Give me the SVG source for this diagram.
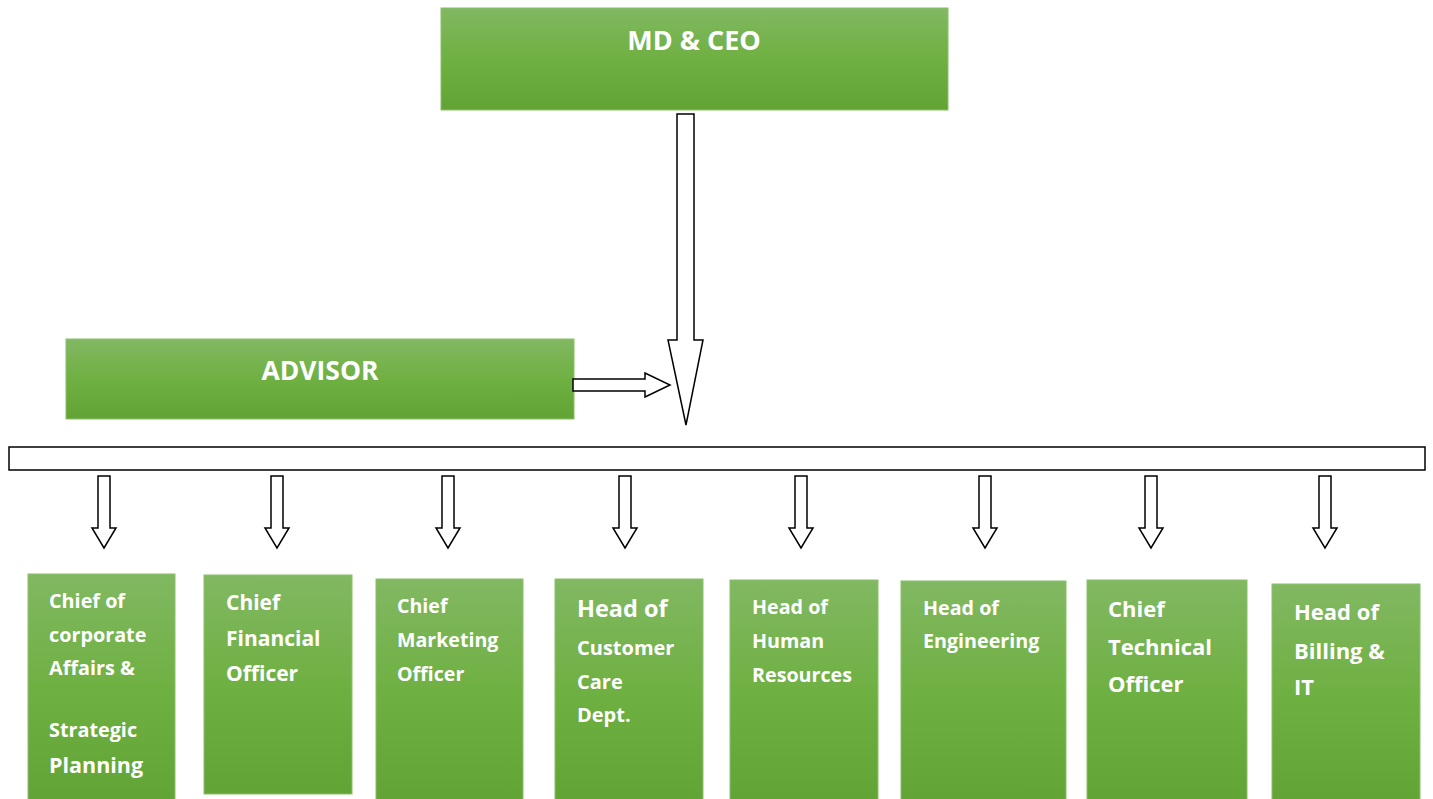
<svg xmlns="http://www.w3.org/2000/svg" width="1433" height="799" viewBox="0 0 1433 799">
<defs>
<linearGradient id="g" x1="0" y1="0" x2="0" y2="1">
<stop offset="0" stop-color="#81b862"/>
<stop offset="0.5" stop-color="#6fb042"/>
<stop offset="1" stop-color="#62a335"/>
</linearGradient>
</defs>
<style>
.box{fill:url(#g);stroke:#8cc06a;stroke-width:1}
.t{font-family:"Open Sans","Liberation Sans",sans-serif;font-weight:700;fill:#ffffff}
.arr{fill:#ffffff;stroke:#000000;stroke-width:1.5;stroke-linejoin:miter}
</style>
<rect width="1433" height="799" fill="#ffffff"/>
<g id="md-ceo">
<rect class="box" x="441" y="8" width="507" height="102"/>
<text class="t" x="694" y="50" font-size="27" text-anchor="middle">MD &amp; CEO</text>
</g>
<g id="advisor">
<rect class="box" x="66" y="339" width="508" height="80"/>
<text class="t" x="320" y="380" font-size="26.5" text-anchor="middle">ADVISOR</text>
</g>
<g id="connectors">
<polygon class="arr" points="677,114 694,114 694,340 703,340 686,425 668,340 677,340"/>
<polygon class="arr" points="573,379 645,379 645,373 670,385 645,397 645,391 573,391"/>
<rect class="arr" x="9" y="447" width="1416" height="23"/>
<g id="down-arrows">
<polygon class="arr" points="98,476 110,476 110,528 116,528 104,548 92,528 98,528"/>
<polygon class="arr" points="271,476 283,476 283,528 289,528 277,548 265,528 271,528"/>
<polygon class="arr" points="442,476 454,476 454,528 460,528 448,548 436,528 442,528"/>
<polygon class="arr" points="619,476 631,476 631,528 637,528 625,548 613,528 619,528"/>
<polygon class="arr" points="795,476 807,476 807,528 813,528 801,548 789,528 795,528"/>
<polygon class="arr" points="979,476 991,476 991,528 997,528 985,548 973,528 979,528"/>
<polygon class="arr" points="1145,476 1157,476 1157,528 1163,528 1151,548 1139,528 1145,528"/>
<polygon class="arr" points="1319,476 1331,476 1331,528 1337,528 1325,548 1313,528 1319,528"/>
</g>
</g>
<g id="n1">
<rect class="box" x="28" y="574" width="147" height="230"/>
<text class="t" font-size="19.8"><tspan x="49" y="608">Chief of</tspan><tspan x="49" y="642">corporate</tspan><tspan x="49" y="675">Affairs &amp;</tspan><tspan x="49" y="737">Strategic</tspan></text>
<text class="t" font-size="21.5"><tspan x="49" y="773">Planning</tspan></text>
</g>
<g id="n2">
<rect class="box" x="204" y="575" width="148" height="219"/>
<text class="t" font-size="21"><tspan x="226" y="610">Chief</tspan><tspan x="226" y="646">Financial</tspan><tspan x="226" y="681">Officer</tspan></text>
</g>
<g id="n3">
<rect class="box" x="376" y="579" width="147" height="225"/>
<text class="t" font-size="19.6"><tspan x="397" y="613">Chief</tspan><tspan x="397" y="647">Marketing</tspan><tspan x="397" y="681">Officer</tspan></text>
</g>
<g id="n4">
<rect class="box" x="555" y="579" width="148" height="225"/>
<text class="t" font-size="23.5"><tspan x="577" y="617">Head of</tspan></text>
<text class="t" font-size="20"><tspan x="577" y="655">Customer</tspan><tspan x="577" y="689">Care</tspan><tspan x="577" y="722">Dept.</tspan></text>
</g>
<g id="n5">
<rect class="box" x="730" y="580" width="148" height="224"/>
<text class="t" font-size="19.7"><tspan x="752" y="614">Head of</tspan><tspan x="752" y="648">Human</tspan><tspan x="752" y="682">Resources</tspan></text>
</g>
<g id="n6">
<rect class="box" x="901" y="581" width="165" height="223"/>
<text class="t" font-size="19.7"><tspan x="923" y="615">Head of</tspan><tspan x="923" y="648">Engineering</tspan></text>
</g>
<g id="n7">
<rect class="box" x="1087" y="580" width="160" height="224"/>
<text class="t" font-size="22"><tspan x="1108" y="617">Chief</tspan><tspan x="1108" y="655">Technical</tspan><tspan x="1108" y="692">Officer</tspan></text>
</g>
<g id="n8">
<rect class="box" x="1272" y="584" width="148" height="220"/>
<text class="t" font-size="22"><tspan x="1294" y="620">Head of</tspan><tspan x="1294" y="659">Billing &amp;</tspan><tspan x="1294" y="695">IT</tspan></text>
</g>
</svg>
